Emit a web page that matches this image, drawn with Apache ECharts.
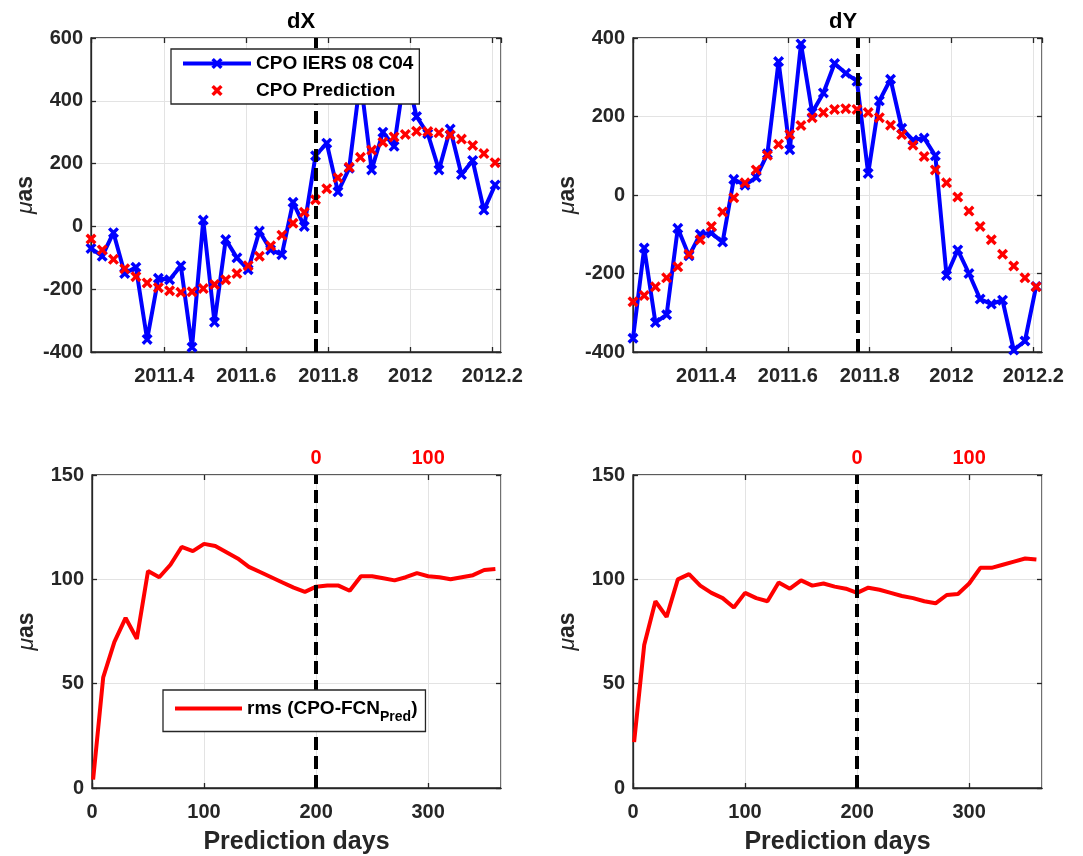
<!DOCTYPE html>
<html><head><meta charset="utf-8">
<script src="https://cdn.jsdelivr.net/npm/echarts@6/dist/echarts.min.js"></script>
<style>html,body{margin:0;padding:0;background:#fff}#c{width:1083px;height:856px}</style>
</head><body><div id="c"></div>
<script>
// ---- data ----
const epochs = [2011.2213,2011.2487,2011.2761,2011.3035,2011.3308,2011.3582,2011.3856,2011.4130,2011.4404,2011.4677,
  2011.4951,2011.5225,2011.5499,2011.5772,2011.6046,2011.6320,2011.6594,2011.6868,2011.7141,2011.7415,
  2011.7689,2011.7963,2011.8236,2011.8510,2011.8784,2011.9058,2011.9332,2011.9605,2011.9879,2012.0153,
  2012.0427,2012.0700,2012.0974,2012.1248,2012.1522,2012.1796,2012.2069];
const dxC04 = [-70,-95,-20,-150,-130,-360,-165,-170,-125,-385,20,-305,-42,-100,-138,-15,-75,-90,77,0,
  225,265,110,185,470,180,300,255,500,350,295,180,310,165,210,52,132];
const dxPred = [-40,-75,-105,-135,-160,-180,-195,-205,-210,-208,-198,-185,-170,-150,-125,-95,-62,-28,10,45,
  85,120,155,188,220,243,268,285,293,303,302,298,291,278,258,232,203];
const dyC04 = [-365,-135,-325,-305,-85,-155,-100,-97,-120,40,25,45,105,340,115,385,210,260,335,310,
  290,55,240,295,170,140,145,100,-205,-140,-200,-265,-278,-268,-395,-372,-233];
const dyPred = [-272,-256,-234,-211,-183,-151,-114,-80,-43,-7,31,64,101,129,154,177,197,210,218,220,
  218,210,197,178,154,127,98,64,31,-5,-41,-80,-114,-151,-181,-211,-234];
const predDays = [1,10,20,30,40,50,60,70,80,90,100,110,120,130,140,150,160,170,180,190,
  200,210,220,230,240,250,260,270,280,290,300,310,320,330,340,350,360];
const rmsDX = [4,53,70,81.5,71.5,104,101,107,115.5,113.5,117,116,113,110,106,103.5,101,98.5,96,94,
  96.5,97,97,94.5,101.5,101.5,100.5,99.5,101,103,101.5,101,100,101,102,104.5,105];
const rmsDY = [22,68.5,89.5,82,100,102.5,97,93.5,91,86.5,93.5,91,89.5,98.5,95.5,99.5,97,98,96.5,95.5,
  93.5,96,95,93.5,92,91,89.5,88.5,92.5,93,98,105.5,105.5,107,108.5,110,109.5];
const predStartEpoch = epochs[20];
const predStartDay = 200;
const titles = ['dX','dY'];
const legendNames = ['CPO IERS 08 C04','CPO Prediction'];
const rmsName = 'rms (CPO-FCN_Pred)';

// ---- chart ----
const FONT = 'Liberation Sans, Arial, Helvetica, sans-serif';
const TXT = '#262626';
const XSYM = 'path://M0,2.2 L2.2,0 L5,2.8 L7.8,0 L10,2.2 L7.2,5 L10,7.8 L7.8,10 L5,7.2 L2.2,10 L0,7.8 L2.8,5 Z';
const pair = (xs, ys) => xs.map((x, i) => [x, ys[i]]);

const grids = [
  {left: 91, top: 38, width: 410, height: 314},
  {left: 633, top: 38, width: 409, height: 314},
  {left: 92, top: 475, width: 409, height: 315},
  {left: 633, top: 475, width: 409, height: 315}
].map(g => Object.assign(g, {show: true, borderColor: TXT, borderWidth: 1.3, backgroundColor: '#fff'}));

const tickLbl = {color: TXT, fontSize: 20, fontWeight: 'bold', fontFamily: FONT};
const splitL = {show: true, lineStyle: {color: '#e3e3e3', width: 1}};
const axTick = {show: true, inside: true, length: 5, lineStyle: {color: TXT, width: 1.3}};
const axLine = {show: true, onZero: false, lineStyle: {color: TXT, width: 1.3}};
const noLine = {show: false, onZero: false};

function yearAxis(gi, mirror) {
  return {type: 'value', gridIndex: gi, position: mirror ? 'top' : 'bottom',
    min: 2011.2213, max: 2012.2213, splitNumber: 5,
    axisLine: mirror ? noLine : axLine, axisTick: axTick, splitLine: mirror ? {show: false} : splitL,
    axisLabel: Object.assign({show: !mirror, margin: 14, showMinLabel: false, showMaxLabel: false,
      formatter: v => String(Math.round(v * 10) / 10)}, tickLbl)};
}
function dayAxis(gi) {
  return {type: 'value', gridIndex: gi, min: 0, max: 365, interval: 100,
    name: 'Prediction days', nameLocation: 'middle', nameGap: 42,
    nameTextStyle: {color: TXT, fontSize: 25, fontWeight: 'bold', fontFamily: FONT},
    axisLine: axLine, axisTick: axTick, splitLine: splitL,
    axisLabel: Object.assign({margin: 14, showMaxLabel: false}, tickLbl)};
}
function topDayAxis(gi) {
  return {type: 'value', gridIndex: gi, position: 'top', min: -predStartDay, max: 365 - predStartDay, interval: 100,
    axisLine: noLine, axisTick: axTick, splitLine: {show: false},
    axisLabel: {margin: 7, showMaxLabel: false, color: '#ff0000', fontSize: 20, fontWeight: 'bold', fontFamily: FONT,
      formatter: v => (v >= 0 ? String(v) : '')}};
}
function yAx(gi, min, max, interval) {
  return {type: 'value', gridIndex: gi, min, max, interval,
    name: '{m|μ}as', nameLocation: 'middle', nameGap: 54, nameRotate: 90,
    nameTextStyle: {color: TXT, fontSize: 23, fontWeight: 'bold', fontFamily: FONT,
      rich: {m: {fontStyle: 'italic', fontWeight: 'normal', fontSize: 23, color: TXT, fontFamily: FONT}}},
    axisLine: axLine, axisTick: axTick, splitLine: splitL,
    axisLabel: Object.assign({margin: 8}, tickLbl)};
}
function yRight(gi, min, max, interval) {
  return {type: 'value', gridIndex: gi, position: 'right', min, max, interval,
    axisLine: noLine, axisTick: axTick, splitLine: {show: false}, axisLabel: {show: false}};
}
const dash = (val) => ({silent: true, symbol: 'none', label: {show: false},
  lineStyle: {color: '#000', width: 4, type: [13, 6]}, data: [{xAxis: val}], animation: false});

function c04Series(name, xi, data) {
  return {name, type: 'line', xAxisIndex: xi, yAxisIndex: xi, data,
    symbol: XSYM, symbolSize: 11, showAllSymbol: true,
    lineStyle: {color: '#0000ff', width: 4}, itemStyle: {color: '#0000ff'}, z: 2};
}
function predSeries(name, xi, data, mark) {
  return {name, type: 'line', xAxisIndex: xi, yAxisIndex: xi, data,
    symbol: XSYM, symbolSize: 11, showAllSymbol: true,
    lineStyle: {color: '#ff0000', width: 0, opacity: 0}, itemStyle: {color: '#ff0000'}, z: 3,
    markLine: dash(mark)};
}

const option = {
  animation: false,
  backgroundColor: '#fff',
  title: [
    {text: titles[0], left: 296, top: 6, textAlign: 'center', textStyle: {fontSize: 22, fontWeight: 'bold', color: '#000', fontFamily: FONT}},
    {text: titles[1], left: 838, top: 6, textAlign: 'center', textStyle: {fontSize: 22, fontWeight: 'bold', color: '#000', fontFamily: FONT}}
  ],
  legend: [
    {data: legendNames, orient: 'vertical', left: 171, top: 49, itemWidth: 68, itemHeight: 14, itemGap: 8,
     padding: [5, 6, 4, 10], backgroundColor: '#fff', borderColor: TXT, borderWidth: 1.3, borderRadius: 0,
     zlevel: 1, z: 50, lineStyle: {width: 4},
     textStyle: {fontSize: 19, fontWeight: 'bold', color: '#000', fontFamily: FONT}, selectedMode: false},
    {data: [rmsName], left: 163, top: 690, itemWidth: 67, itemHeight: 14,
     padding: [9, 8, 6, 10], backgroundColor: '#fff', borderColor: TXT, borderWidth: 1.3, borderRadius: 0,
     zlevel: 1, z: 50, lineStyle: {width: 4}, itemStyle: {color: 'rgba(0,0,0,0)', borderWidth: 0, opacity: 0},
     formatter: () => '{a|rms (CPO-FCN}{b|Pred}{a|)}',
     textStyle: {fontSize: 19, fontWeight: 'bold', color: '#000', fontFamily: FONT,
       rich: {a: {fontSize: 19, fontWeight: 'bold', color: '#000', fontFamily: FONT, lineHeight: 34},
              b: {fontSize: 14, fontWeight: 'bold', color: '#000', fontFamily: FONT, lineHeight: 14, verticalAlign: 'bottom', padding: [0, 0, 1, 0]}}},
     selectedMode: false}
  ],
  grid: grids,
  xAxis: [yearAxis(0, false), yearAxis(1, false), dayAxis(2), dayAxis(3), topDayAxis(2), topDayAxis(3),
    yearAxis(0, true), yearAxis(1, true)],
  yAxis: [yAx(0, -400, 600, 200), yAx(1, -400, 400, 200), yAx(2, 0, 150, 50), yAx(3, 0, 150, 50),
    yRight(0, -400, 600, 200), yRight(1, -400, 400, 200), yRight(2, 0, 150, 50), yRight(3, 0, 150, 50)],
  series: [
    c04Series(legendNames[0], 0, pair(epochs, dxC04)),
    predSeries(legendNames[1], 0, pair(epochs, dxPred), predStartEpoch),
    c04Series(legendNames[0] + ' dY', 1, pair(epochs, dyC04)),
    predSeries(legendNames[1] + ' dY', 1, pair(epochs, dyPred), predStartEpoch),
    {name: rmsName, type: 'line', xAxisIndex: 2, yAxisIndex: 2, data: pair(predDays, rmsDX),
     symbol: 'circle', symbolSize: 0, showSymbol: false,
     lineStyle: {color: '#ff0000', width: 4}, itemStyle: {color: '#ff0000'}, markLine: dash(predStartDay)},
    {name: 'rms dY', type: 'line', xAxisIndex: 3, yAxisIndex: 3, data: pair(predDays, rmsDY),
     symbol: 'circle', symbolSize: 0, showSymbol: false,
     lineStyle: {color: '#ff0000', width: 4}, itemStyle: {color: '#ff0000'}, markLine: dash(predStartDay)}
  ]
};
const chart = echarts.init(document.getElementById('c'), null, {renderer: 'canvas'});
chart.setOption(option);
</script></body></html>
